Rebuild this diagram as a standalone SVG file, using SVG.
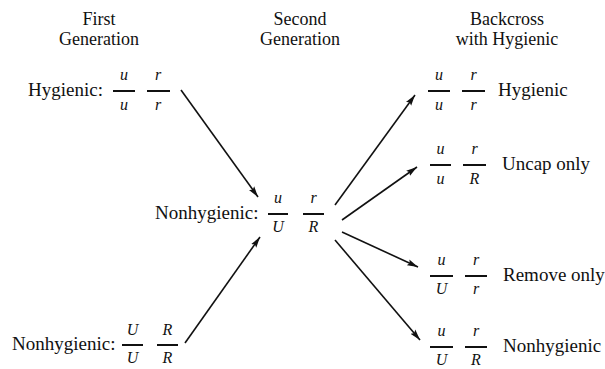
<svg xmlns="http://www.w3.org/2000/svg" width="605" height="369" viewBox="0 0 605 369">
<style>
text{font-family:"Liberation Serif","DejaVu Serif","Noto Serif","Times New Roman",serif;fill:#111}
.lbl{font-size:19px}
.hd{font-size:18px;text-anchor:middle}
.g{font-size:16px;font-style:italic;text-anchor:middle}
.bar{stroke:#111;stroke-width:2}
.conn{stroke:#111;stroke-width:1.6;fill:none;marker-end:url(#ah)}
</style>
<defs>
<marker id="ah" markerUnits="userSpaceOnUse" markerWidth="12" markerHeight="8" refX="11" refY="4" orient="auto">
<path d="M0,0.8 L11,4 L0,7.2 L2,4 Z" fill="#111"/>
</marker>
</defs>
<rect width="605" height="369" fill="#fff"/>
<g id="headers">
<text class="hd" x="99" y="25">First</text>
<text class="hd" x="99" y="45">Generation</text>
<text class="hd" x="300" y="25">Second</text>
<text class="hd" x="300" y="45">Generation</text>
<text class="hd" x="507" y="25">Backcross</text>
<text class="hd" x="507" y="45">with Hygienic</text>
</g>
<g id="p1-hygienic">
<text class="lbl" x="28" y="96">Hygienic:</text>
<line class="bar" x1="113" y1="91" x2="135" y2="91"/><text class="g" x="124" y="80">u</text><text class="g" x="124" y="110">u</text>
<line class="bar" x1="147" y1="91" x2="170" y2="91"/><text class="g" x="158" y="80">r</text><text class="g" x="158" y="110">r</text>
</g>
<g id="p1-nonhygienic">
<text class="lbl" x="12" y="350">Nonhygienic:</text>
<line class="bar" x1="122" y1="345" x2="143" y2="345"/><text class="g" x="132.5" y="335">U</text><text class="g" x="132.5" y="363">U</text>
<line class="bar" x1="157" y1="345" x2="178" y2="345"/><text class="g" x="167.5" y="335">R</text><text class="g" x="167.5" y="363">R</text>
</g>
<g id="f1-nonhygienic">
<text class="lbl" x="155" y="219">Nonhygienic:</text>
<line class="bar" x1="268" y1="214" x2="288" y2="214"/><text class="g" x="278" y="203">u</text><text class="g" x="278" y="232">U</text>
<line class="bar" x1="303" y1="214" x2="324" y2="214"/><text class="g" x="313.5" y="203">r</text><text class="g" x="313.5" y="232">R</text>
</g>
<g id="b1-hygienic">
<line class="bar" x1="428" y1="91" x2="450" y2="91"/><text class="g" x="439" y="80">u</text><text class="g" x="439" y="110">u</text>
<line class="bar" x1="462" y1="91" x2="485" y2="91"/><text class="g" x="473.5" y="80">r</text><text class="g" x="473.5" y="110">r</text>
<text class="lbl" x="498" y="96">Hygienic</text>
</g>
<g id="b2-uncap">
<line class="bar" x1="430" y1="165" x2="451" y2="165"/><text class="g" x="440.5" y="154">u</text><text class="g" x="440.5" y="184">u</text>
<line class="bar" x1="463" y1="165" x2="486" y2="165"/><text class="g" x="474.5" y="154">r</text><text class="g" x="474.5" y="184">R</text>
<text class="lbl" x="502" y="170">Uncap only</text>
</g>
<g id="b3-remove">
<line class="bar" x1="430" y1="276" x2="453" y2="276"/><text class="g" x="441.5" y="265">u</text><text class="g" x="441.5" y="294">U</text>
<line class="bar" x1="465" y1="276" x2="487" y2="276"/><text class="g" x="476" y="265">r</text><text class="g" x="476" y="294">r</text>
<text class="lbl" x="503" y="281">Remove only</text>
</g>
<g id="b4-nonhygienic">
<line class="bar" x1="430" y1="347" x2="453" y2="347"/><text class="g" x="441.5" y="336">u</text><text class="g" x="441.5" y="365">U</text>
<line class="bar" x1="465" y1="347" x2="487" y2="347"/><text class="g" x="476" y="336">r</text><text class="g" x="476" y="365">R</text>
<text class="lbl" x="503" y="352">Nonhygienic</text>
</g>
<g id="connectors">
<line class="conn" x1="181" y1="90" x2="258" y2="197"/>
<line class="conn" x1="185" y1="343" x2="260" y2="237"/>
<line class="conn" x1="335" y1="205" x2="415" y2="95"/>
<line class="conn" x1="342" y1="220" x2="417" y2="167"/>
<line class="conn" x1="342" y1="232" x2="418" y2="267"/>
<line class="conn" x1="335" y1="240" x2="420" y2="340"/>
</g>
</svg>
